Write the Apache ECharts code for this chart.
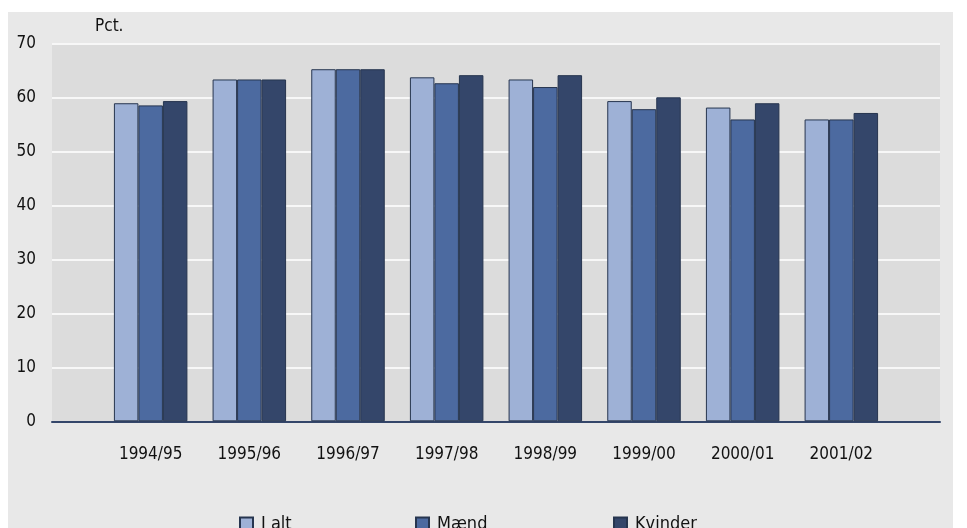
<!DOCTYPE html>
<html>
<head>
<meta charset="utf-8">
<script src="https://cdn.jsdelivr.net/npm/echarts@6/dist/echarts.min.js"></script>
<style>
html,body{margin:0;padding:0;background:#ffffff;}
#c{width:967px;height:528px;}
</style>
</head>
<body>
<div id="c"></div>
<script>
const categories = ['1994/95','1995/96','1996/97','1997/98','1998/99','1999/00','2000/01','2001/02'];
const iAlt    = [58.9, 63.3, 65.2, 63.7, 63.3, 59.3, 58.1, 55.9];
const maend   = [58.5, 63.3, 65.2, 62.6, 61.9, 57.8, 55.9, 55.9];
const kvinder = [59.3, 63.3, 65.2, 64.1, 64.1, 60.0, 58.9, 57.1];
const yTicks  = [0, 10, 20, 30, 40, 50, 60, 70];
const seriesNames = ['I alt', 'Mænd', 'Kvinder'];

const FONT = '"DejaVu Sans Condensed", "DejaVu Sans", sans-serif';
const pad = arr => ['-'].concat(arr, ['-']);
const colors = ['#9eb1d6', '#4c6aa0', '#34466a'];
const values = [iAlt, maend, kvinder];

const chart = echarts.init(document.getElementById('c'), null, {renderer: 'canvas'});
chart.setOption({
  animation: false,
  backgroundColor: '#ffffff',
  graphic: [
    {type: 'rect', z: -10, shape: {x: 8, y: 12, width: 945, height: 520}, style: {fill: '#e8e8e8'}},
    {type: 'text', left: 95, top: 18, style: {text: 'Pct.', font: '17px ' + FONT, fill: '#111111'}}
  ],
  grid: {left: 52, right: 27, top: 43.3, bottom: 106.7, show: true, backgroundColor: '#dcdcdc', borderWidth: 0},
  legend: seriesNames.map((n, i) => ({
    data: [n],
    left: [234, 410, 608][i],
    top: 510,
    itemWidth: 13,
    itemHeight: 13,
    itemGap: 0,
    icon: 'rect',
    textStyle: {fontFamily: FONT, fontSize: 18, color: '#111111', padding: [0, 0, 0, 3]},
    selectedMode: false
  })),
  xAxis: {
    type: 'category',
    boundaryGap: false,
    data: [''].concat(categories, ['']),
    axisLine: {lineStyle: {color: '#34466a', width: 2}},
    axisTick: {show: false},
    axisLabel: {fontFamily: FONT, fontSize: 17, color: '#111111', margin: 25, interval: 0},
    splitLine: {show: false}
  },
  yAxis: {
    type: 'value',
    min: yTicks[0],
    max: yTicks[yTicks.length - 1],
    interval: yTicks[1] - yTicks[0],
    axisLine: {show: false},
    axisTick: {show: false},
    axisLabel: {fontFamily: FONT, fontSize: 17, color: '#111111', margin: 16},
    splitLine: {lineStyle: {color: '#f7f7f7', width: 2}}
  },
  series: seriesNames.map((n, i) => ({
    name: n,
    type: 'bar',
    data: pad(values[i]),
    barWidth: 24.5,
    barGap: '0%',
    itemStyle: {color: colors[i], borderColor: '#26354f', borderWidth: 1}
  }))
});
</script>
</body>
</html>
